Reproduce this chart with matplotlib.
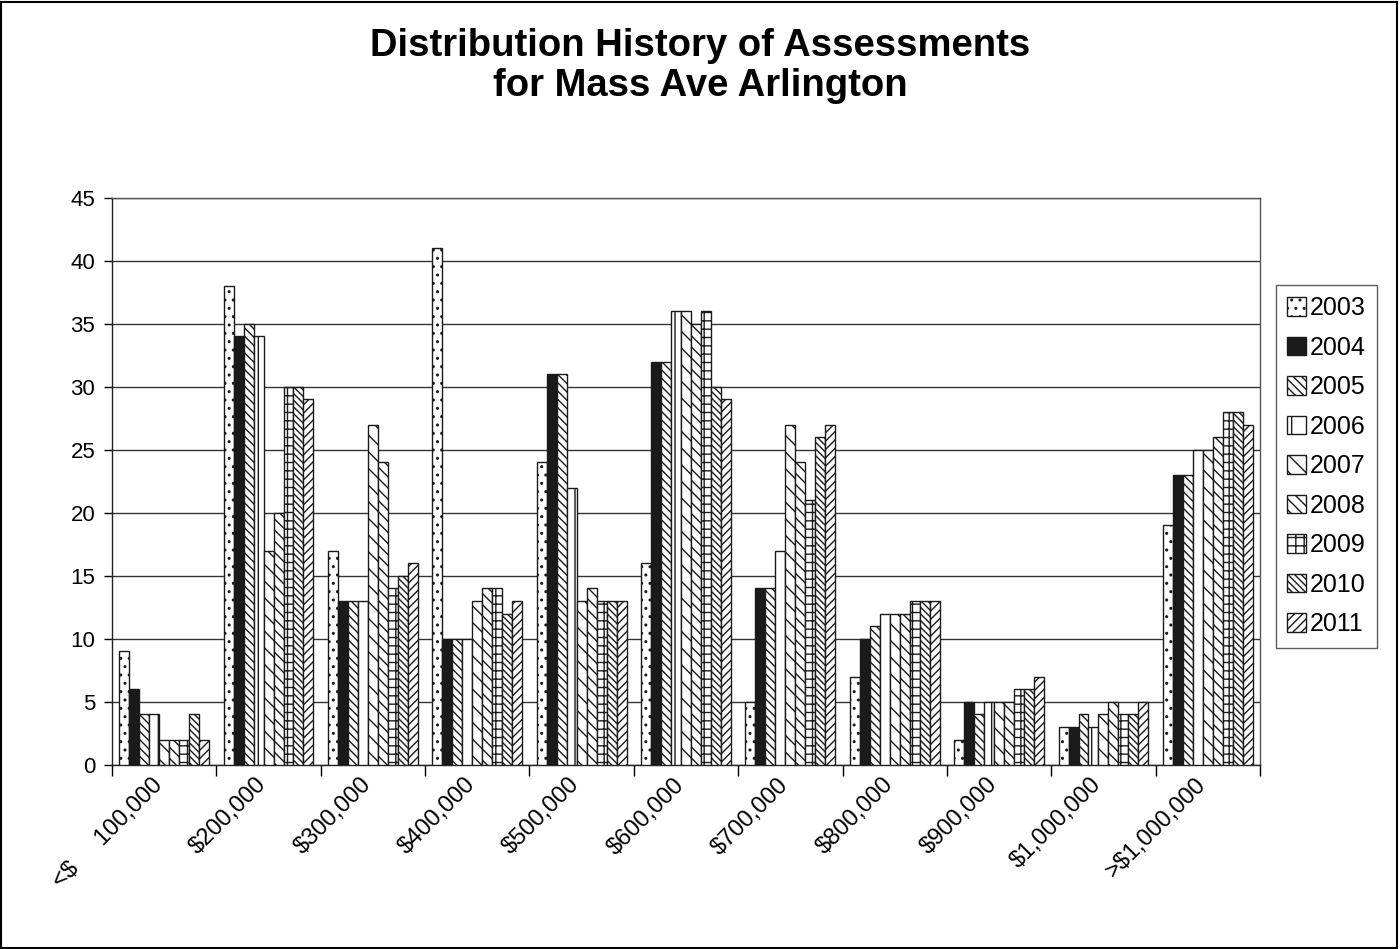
import numpy as np
import matplotlib
matplotlib.use('Agg')
import matplotlib.pyplot as plt
from matplotlib.patches import Rectangle

plt.rcParams['font.family'] = ['Liberation Sans', 'DejaVu Sans']
plt.rcParams['hatch.linewidth'] = 1.0

categories = ['<$     100,000', '$200,000', '$300,000', '$400,000', '$500,000',
              '$600,000', '$700,000', '$800,000', '$900,000', '$1,000,000',
              '>$1,000,000']
years = ['2003', '2004', '2005', '2006', '2007', '2008', '2009', '2010', '2011']

y2003 = [9, 38, 17, 41, 24, 16, 5, 7, 2, 3, 19]
y2004 = [6, 34, 13, 10, 31, 32, 14, 10, 5, 3, 23]
y2005 = [4, 35, 13, 10, 31, 32, 14, 11, 4, 4, 23]
y2006 = [4, 34, 13, 10, 22, 36, 17, 12, 5, 3, 25]
y2007 = [2, 17, 27, 13, 13, 36, 27, 12, 5, 4, 25]
y2008 = [2, 20, 24, 14, 14, 35, 24, 12, 5, 5, 26]
y2009 = [2, 30, 14, 14, 13, 36, 21, 13, 6, 4, 28]
y2010 = [4, 30, 15, 12, 13, 30, 26, 13, 6, 4, 28]
y2011 = [2, 29, 16, 13, 13, 29, 27, 13, 7, 5, 27]
series = [y2003, y2004, y2005, y2006, y2007, y2008, y2009, y2010, y2011]

# fill / hatch per year, black & white print style
styles = [
    ('white', '..'),
    ('#1a1a1a', ''),
    ('white', '\\\\\\\\'),
    ('white', '|'),
    ('white', '\\\\'),
    ('white', '\\\\\\'),
    ('white', '++'),
    ('white', '\\\\\\\\\\'),
    ('white', '////'),
]

fig = plt.figure(figsize=(14, 9.49), dpi=100)
ax = fig.add_axes([0.08, 0.194, 0.82, 0.5976])

x = np.arange(len(categories))
n = len(series)
w = 0.86 / n
for i, (vals, (fc, hatch)) in enumerate(zip(series, styles)):
    ax.bar(x - 0.43 + w * (i + 0.5), vals, width=w, color=fc, hatch=hatch,
           edgecolor='#1a1a1a', linewidth=1.0, label=years[i], zorder=3)

ax.set_xlim(-0.5, len(categories) - 0.5)
ax.set_ylim(0, 45)
ax.set_yticks(range(0, 46, 5))
ax.yaxis.grid(True, color='#333333', linewidth=1.0, zorder=0)
ax.tick_params(axis='y', labelsize=16, length=6, width=1, pad=6)

ax.set_xticks(x - 0.05)
ax.set_xticklabels(categories, rotation=45, ha='right', va='center',
                   rotation_mode='anchor', fontsize=17)
ax.tick_params(axis='x', which='major', length=0, pad=12)
ax.set_xticks(np.arange(-0.5, len(categories), 1.0), minor=True)
ax.tick_params(axis='x', which='minor', length=8, width=1)

for s in ax.spines.values():
    s.set_color('#555555')
    s.set_linewidth(1.0)
ax.spines['left'].set_color('#222222')
ax.spines['bottom'].set_color('#222222')

fig.text(0.5, 1 - 66 / 949, 'Distribution History of Assessments\nfor Mass Ave Arlington',
         ha='center', va='center', fontsize=27.5, fontweight='bold',
         linespacing=1.13)

leg = ax.legend(loc='upper left', bbox_to_anchor=(1276 / 1400, 1 - 285 / 949),
                bbox_transform=fig.transFigure, fontsize=18,
                frameon=True, fancybox=False, edgecolor='#333333',
                handlelength=0.75, handleheight=0.75, handletextpad=0.15,
                labelspacing=0.62, borderpad=0.45, borderaxespad=0)
leg.get_frame().set_linewidth(1.0)

fig.patches.append(Rectangle((0.001, 0.001), 0.997, 0.997, transform=fig.transFigure,
                             fill=False, edgecolor='black', linewidth=1.5))

fig.savefig('out.png', dpi=100)
